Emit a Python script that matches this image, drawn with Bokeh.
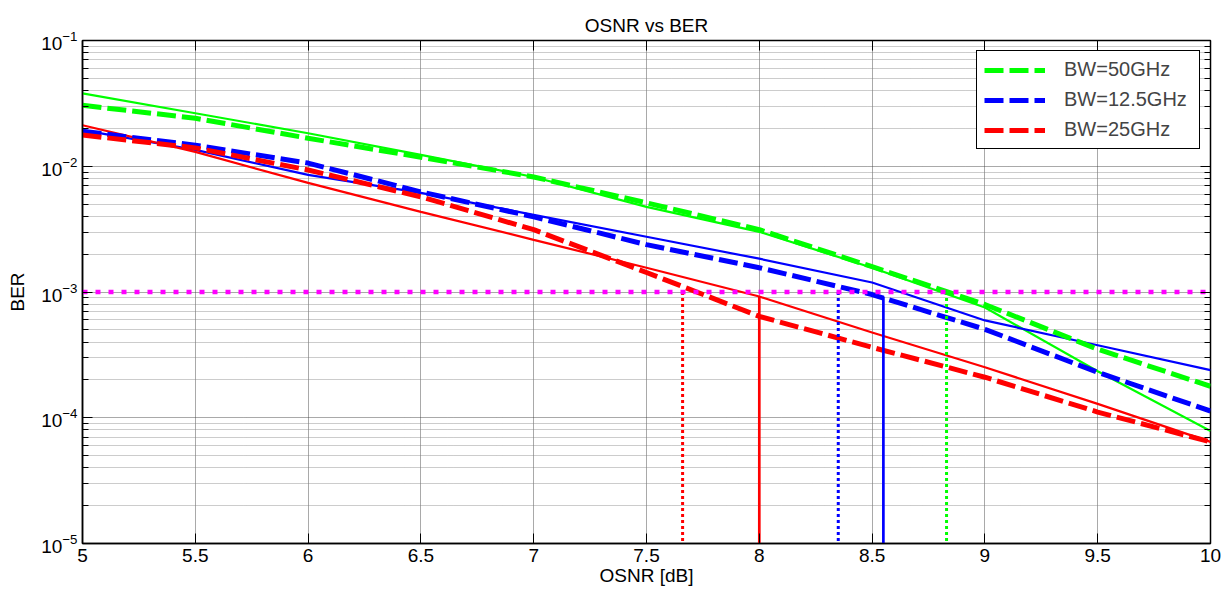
from bokeh.plotting import figure
from bokeh.models import (Range1d, FixedTicker, LinearAxis, LogAxis, Legend,
                          LegendItem, CustomJSTickFormatter, LogTickFormatter)
from bokeh.embed import file_html
from bokeh.resources import INLINE

# ---------------- data ----------------
osnr = [5, 5.5, 6, 6.5, 7, 7.5, 8, 8.5, 9, 9.5, 10]

ber_50_solid = [0.0380, 0.0264, 0.0183, 0.0123, 0.00822, 0.00475, 0.00301, 0.00156, 0.000754, 0.000234, 7.85e-5]
ber_50_dash = [0.0305, 0.0241, 0.0167, 0.0118, 0.00822, 0.00512, 0.00313, 0.00159, 0.000796, 0.000351, 0.000178]
ber_125_solid = [0.0194, 0.0135, 0.00853, 0.00614, 0.00411, 0.00275, 0.00184, 0.00119, 0.000594, 0.000377, 0.000239]
ber_125_dash = [0.0190, 0.0147, 0.0106, 0.00625, 0.00396, 0.00238, 0.00156, 0.000955, 0.000505, 0.000230, 0.000113]
ber_25_solid = [0.0212, 0.0130, 0.00737, 0.00434, 0.00260, 0.00156, 0.000920, 0.000477, 0.000252, 0.000129, 6.43e-5]
ber_25_dash = [0.0177, 0.0140, 0.00934, 0.00571, 0.00313, 0.00143, 0.000640, 0.000363, 0.000210, 0.000111, 6.43e-5]

fec_limit = 1e-3
fec_x = [5, 10]
ber_floor = 1e-5

# threshold crossings (vertical markers)
cross_25_dot = 7.66
cross_25_solid = 8.00
cross_125_dot = 8.35
cross_125_solid = 8.55
cross_50_dot = 8.83
solid_marker_top = 9.2e-4

legend_labels = ["BW=50GHz", "BW=12.5GHz", "BW=25GHz"]
x_tick_values = [5, 5.5, 6, 6.5, 7, 7.5, 8, 8.5, 9, 9.5, 10]
y_tick_values = [1e-5, 1e-4, 1e-3, 1e-2, 1e-1]
y_minor_values = [m * d for d in [1e-5, 1e-4, 1e-3, 1e-2] for m in range(2, 10)]

GREEN = "#00ff00"
BLUE = "#0000ff"
RED = "#ff0000"
MAGENTA = "#ff00ff"
FONT = "Liberation Sans"

# ---------------- figure ----------------
p = figure(width=1229, height=598, x_range=Range1d(5, 10), y_range=Range1d(1e-5, 1e-1),
           y_axis_type="log", output_backend="svg", toolbar_location=None,
           title="OSNR vs BER",
           min_border_left=82, min_border_right=19, min_border_top=40, min_border_bottom=55)
p.background_fill_color = "white"
p.border_fill_color = "white"
p.outline_line_color = "black"
p.outline_line_width = 1.5
p.outline_line_alpha = 1.0

p.title.text_font = FONT
p.title.text_font_size = "19px"
p.title.text_font_style = "normal"
p.title.align = "center"
p.title.text_color = "black"
p.title.standoff = 10

xt = FixedTicker(ticks=x_tick_values)
yt = FixedTicker(ticks=y_tick_values, minor_ticks=y_minor_values)

p.xaxis.ticker = xt
p.xaxis.formatter = CustomJSTickFormatter(code="return String(Math.round(tick*10)/10);")
p.yaxis.ticker = yt
p.yaxis.formatter = LogTickFormatter()

for ax in (p.xaxis[0], p.yaxis[0]):
    ax.axis_line_color = "black"
    ax.axis_line_width = 1.5
    ax.major_tick_in = 10
    ax.major_tick_out = 0
    ax.minor_tick_in = 6
    ax.minor_tick_out = 0
    ax.major_tick_line_color = "black"
    ax.minor_tick_line_color = "black"
    ax.major_label_text_font = FONT
    ax.major_label_text_font_size = "19px"
    ax.major_label_text_color = "black"
    ax.axis_label_text_font = FONT
    ax.axis_label_text_font_size = "19px"
    ax.axis_label_text_font_style = "normal"
    ax.axis_label_text_color = "black"

p.xaxis.major_label_standoff = 5
p.xaxis.axis_label = "OSNR [dB]"
p.xaxis.axis_label_standoff = 0
p.yaxis.major_label_standoff = 5
p.yaxis.axis_label = "BER"
p.yaxis.axis_label_standoff = 10

top_ax = LinearAxis(ticker=FixedTicker(ticks=x_tick_values),
                    formatter=CustomJSTickFormatter(code="return '';"),
                    axis_line_color=None, major_tick_in=10, major_tick_out=0,
                    major_tick_line_color="black", major_label_standoff=0,
                    major_label_text_font_size="8px")
right_ax = LogAxis(ticker=FixedTicker(ticks=y_tick_values, minor_ticks=y_minor_values),
                   formatter=CustomJSTickFormatter(code="return '';"), axis_line_color=None,
                   major_tick_in=10, major_tick_out=0, minor_tick_in=6, minor_tick_out=0,
                   major_tick_line_color="black", minor_tick_line_color="black",
                   major_label_standoff=0, major_label_text_font_size="8px")
p.add_layout(top_ax, "above")
p.add_layout(right_ax, "right")

p.xgrid.grid_line_color = "#404040"
p.xgrid.grid_line_dash = "1 1"
p.xgrid.grid_line_alpha = 0.9
p.ygrid.grid_line_color = "#404040"
p.ygrid.grid_line_dash = "1 1"
p.ygrid.grid_line_alpha = 0.9
p.ygrid.minor_grid_line_color = "#808080"
p.ygrid.minor_grid_line_dash = "1 1"
p.ygrid.minor_grid_line_alpha = 0.8

# ---------------- curves ----------------
SW = 2.2
DW = 5
DASH = "19 6"
p.line(osnr, ber_50_solid, line_color=GREEN, line_width=SW)
p.line(osnr, ber_125_solid, line_color=BLUE, line_width=SW)
p.line(osnr, ber_25_solid, line_color=RED, line_width=SW)
r50 = p.line(osnr, ber_50_dash, line_color=GREEN, line_width=DW, line_dash=DASH)
r125 = p.line(osnr, ber_125_dash, line_color=BLUE, line_width=DW, line_dash=DASH)
r25 = p.line(osnr, ber_25_dash, line_color=RED, line_width=DW, line_dash=DASH)

# vertical markers
VD = "3 3"
p.line([cross_25_dot, cross_25_dot], [fec_limit, ber_floor], line_color=RED, line_width=3, line_dash=VD)
p.line([cross_125_dot, cross_125_dot], [fec_limit, ber_floor], line_color=BLUE, line_width=3, line_dash=VD)
p.line([cross_50_dot, cross_50_dot], [fec_limit, ber_floor], line_color=GREEN, line_width=3, line_dash=VD)
p.line([cross_25_solid, cross_25_solid], [solid_marker_top, ber_floor], line_color=RED, line_width=2.7)
p.line([cross_125_solid, cross_125_solid], [solid_marker_top, ber_floor], line_color=BLUE, line_width=2.7)

# FEC limit
p.line(fec_x, [fec_limit, fec_limit], line_color=MAGENTA, line_width=4.5, line_dash="5 8")

legend = Legend(items=[LegendItem(label=legend_labels[0], renderers=[r50]),
                       LegendItem(label=legend_labels[1], renderers=[r125]),
                       LegendItem(label=legend_labels[2], renderers=[r25])],
                location="top_right", border_line_color="black", border_line_width=1,
                border_line_alpha=1, glyph_width=61, glyph_height=20, label_width=128,
                label_text_font=FONT, label_text_font_size="20px", label_standoff=19,
                padding=7, spacing=7, margin=10, background_fill_alpha=1)
p.add_layout(legend)

open("out.html", "w").write(file_html(p, INLINE))
